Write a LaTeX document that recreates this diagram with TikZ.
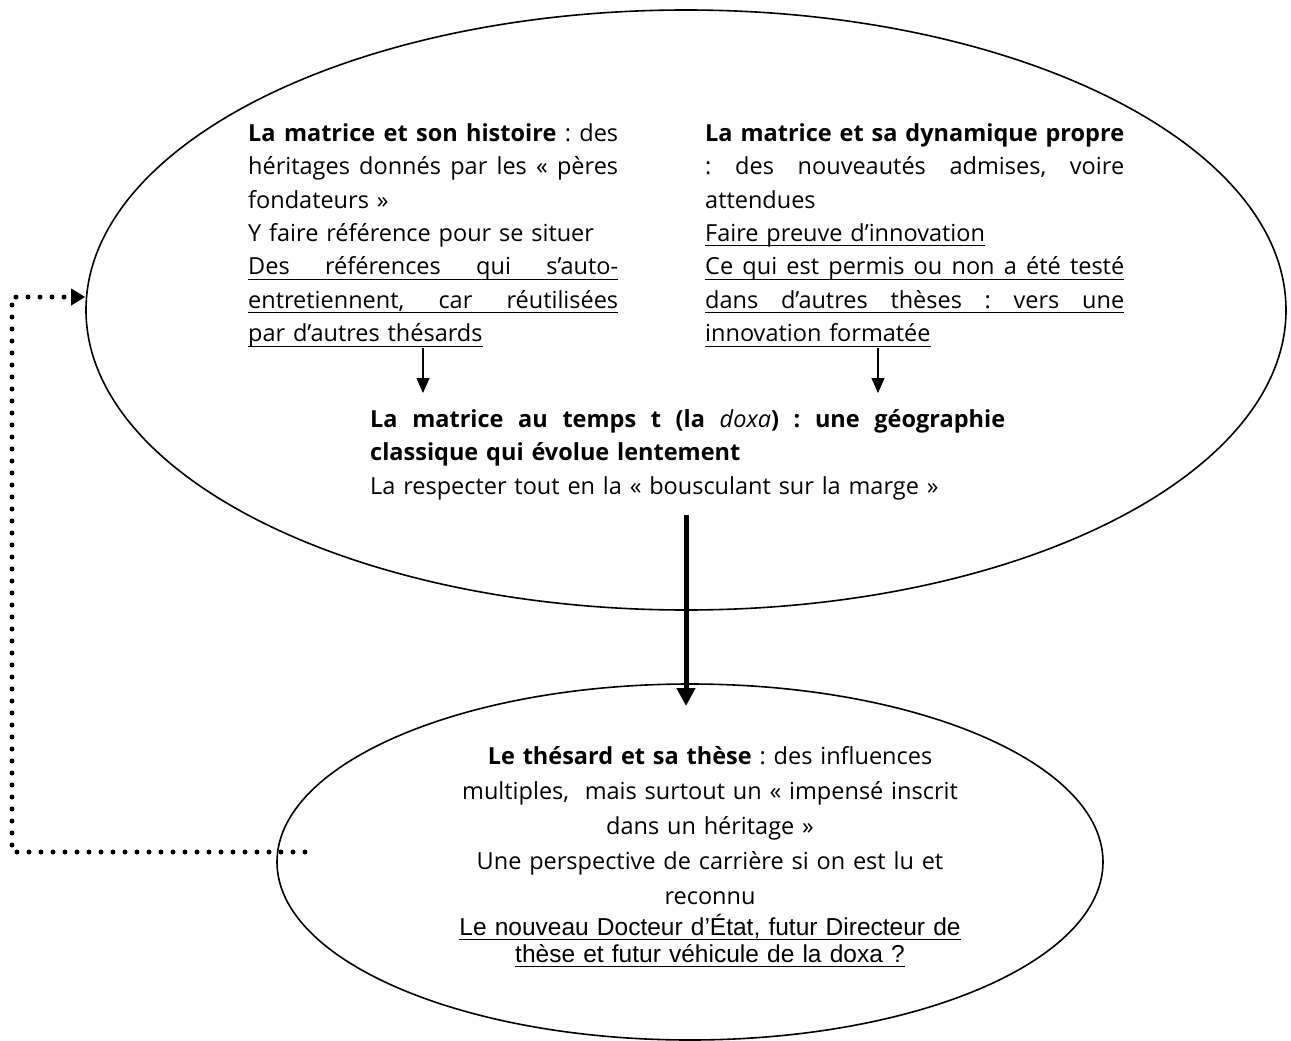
\documentclass[tikz,border=0pt]{standalone}
\usepackage{fontspec}
\setmainfont{Open Sans}
\newfontfamily\arialf{Liberation Sans}
\usetikzlibrary{arrows.meta,shapes.geometric}
\newcommand\ulbox[1]{\leavevmode\setbox0\hbox{#1}\rlap{\rule[-5pt]{\wd0}{1.4pt}}\box0}
\newcommand\jline[1]{\leavevmode\makebox[\linewidth][s]{\frenchspacing\spaceskip=0pt\xspaceskip=0pt #1}}
\begin{document}
\frenchspacing
\begin{tikzpicture}[x=1pt,y=-1pt,
  bubble/.style={draw,ellipse,line width=1.6pt,inner sep=0pt},
  block/.style={anchor=base west,inner sep=0pt,align=left,font=\fontsize{23.5}{33.5}\selectfont},
  cblock/.style={anchor=base,inner sep=0pt,align=center},
  thin/.style={line width=1.2pt,-{Triangle[length=15pt,width=13pt]}},
  thick/.style={line width=5pt,-{Triangle[length=18pt,width=18pt]}},
  dotline/.style={line width=5pt,line cap=round,dash pattern=on 0pt off 12pt,-{Triangle[length=14pt,width=16pt,line cap=butt,line join=miter]}}]
\useasboundingbox (0,0) rectangle (1291,1041);
\node[bubble,minimum width=1200pt,minimum height=600pt] (top) at (686,310) {};
\node[bubble,minimum width=826pt,minimum height=356pt] (bot) at (690,862) {};

\node[block,text width=370pt] (left) at (248,141) {%
\jline{\textbf{La matrice et son histoire} : des}\\
\jline{héritages donnés par les « pères}\\
fondateurs »\\
Y faire référence pour se situer\\
\ulbox{\jline{Des références qui s’auto-}}\\
\ulbox{\jline{entretiennent, car réutilisées}}\\
\ulbox{par d’autres thésards}};

\node[block,text width=419pt] (right) at (705,141) {%
\jline{\textbf{La matrice et sa dynamique propre}}\\
\jline{: des nouveautés admises, voire}\\
attendues\\
\ulbox{Faire preuve d’innovation}\\
\ulbox{\jline{Ce qui est permis ou non a été testé}}\\
\ulbox{\jline{dans d’autres thèses : vers une}}\\
\ulbox{innovation formatée}};

\node[block,text width=635pt] (mid) at (370,427) {%
\jline{\textbf{La matrice au temps t (la \textnormal{\itshape doxa}) : une géographie}}\\
\textbf{classique qui évolue lentement}\\
La respecter tout en la « bousculant sur la marge »};

\node[cblock,text width=620pt,font=\fontsize{23.5}{35}\selectfont] (thes) at (710,764) {%
\textbf{Le thésard et sa thèse} : des influences\\
multiples,~ mais surtout un « impensé inscrit\\
dans un héritage »\\
Une perspective de carrière si on est lu et\\
reconnu};
\node[cblock,text width=620pt,font=\arialf\fontsize{24.5}{27}\selectfont] (doct) at (710,935) {%
\ulbox{Le nouveau Docteur d’État, futur Directeur de}\\
\ulbox{thèse et futur véhicule de la doxa ?}};

\coordinate (la) at (423,348);
\coordinate (lb) at (423,393);
\coordinate (ra) at (878,348);
\coordinate (rb) at (878,393);
\draw[thin] (la) -- (lb);
\draw[thin] (ra) -- (rb);
\coordinate (ta) at (686,515);
\coordinate (tb) at (686,706);
\draw[thick] (ta) -- (tb);
\coordinate (d0) at (305,852);
\coordinate (d1) at (12,852);
\coordinate (d2) at (12,297);
\draw[dotline] (d0) -- (d1) -- (d2) -- ([yshift=13pt]top.west);
\end{tikzpicture}
\end{document}
